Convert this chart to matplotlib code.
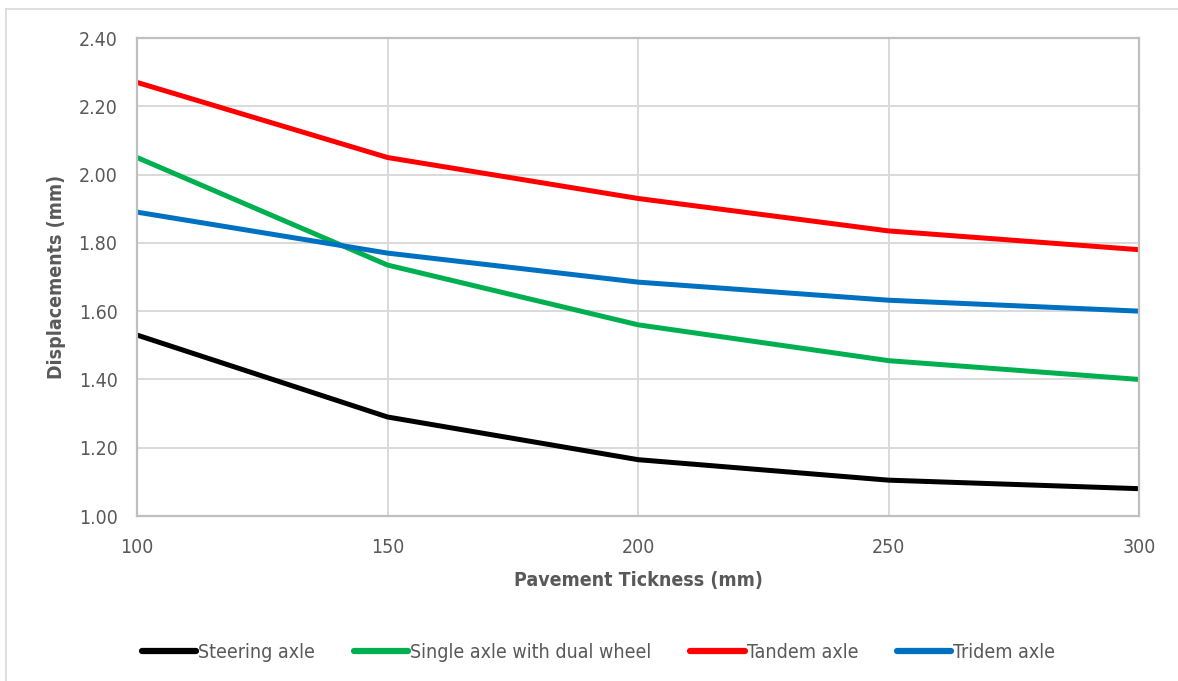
import matplotlib

matplotlib.use("Agg")
import matplotlib.pyplot as plt
from matplotlib.lines import Line2D

# Data
THICKNESS = [100, 150, 200, 250, 300]
STEERING = [1.53, 1.29, 1.165, 1.105, 1.08]
SINGLE_DUAL = [2.05, 1.735, 1.56, 1.455, 1.40]
TANDEM = [2.27, 2.05, 1.93, 1.835, 1.78]
TRIDEM = [1.89, 1.77, 1.685, 1.632, 1.60]

SERIES = [
    ("Steering axle", STEERING, "#000000"),
    ("Single axle with dual wheel", SINGLE_DUAL, "#00B050"),
    ("Tandem axle", TANDEM, "#FF0000"),
    ("Tridem axle", TRIDEM, "#0070C0"),
]

TEXT_COL = "#595959"
FS = 14
plt.rcParams.update({
    "font.family": ["DejaVu Sans"],
    "font.stretch": "condensed",  # closest match to the narrow font of the original
    "font.size": FS,
})

fig = plt.figure(figsize=(11.78, 6.81), dpi=100)
ax = fig.add_axes([137 / 1178, 1 - 516 / 681, (1139 - 137) / 1178, (516 - 38) / 681])

for label, vals, col in SERIES:
    ax.plot(THICKNESS, vals, color=col, lw=3.6, label=label, solid_capstyle="butt")

ax.set_xlim(100, 300)
ax.set_ylim(1.0, 2.4)
ax.set_xticks(THICKNESS)
ax.set_yticks([1.0, 1.2, 1.4, 1.6, 1.8, 2.0, 2.2, 2.4])
ax.set_yticklabels([f"{v:.2f}" for v in ax.get_yticks()])
ax.grid(True, color="#D9D9D9", lw=1.4)
ax.set_axisbelow(True)
for s in ax.spines.values():
    s.set_color("#BFBFBF")
    s.set_linewidth(1.6)
ax.tick_params(length=0, colors=TEXT_COL, labelsize=FS)
ax.tick_params(axis="y", pad=14)
ax.tick_params(axis="x", pad=16)

ax.set_xlabel("Pavement Tickness (mm)", fontweight="bold", color=TEXT_COL,
              fontsize=FS, labelpad=10)
ax.set_ylabel("Displacements (mm)", fontweight="bold", color=TEXT_COL,
              fontsize=FS, labelpad=9)

handles = [Line2D([], [], color=c, lw=4.5, solid_capstyle="round") for _, _, c in SERIES]
labels = [l for l, _, _ in SERIES]
leg = fig.legend(handles, labels, loc="center", bbox_to_anchor=(0.508, 1 - 652 / 681),
                 ncol=4, frameon=False, handlelength=2.8, handletextpad=0.1,
                 columnspacing=2.0, fontsize=FS)
for t in leg.get_texts():
    t.set_color(TEXT_COL)

# outer chart border (top & left visible in the reference)
fig.add_artist(Line2D([6 / 1178, 6 / 1178], [0, 1 - 9 / 681], transform=fig.transFigure,
                      color="#D9D9D9", lw=1.2))
fig.add_artist(Line2D([6 / 1178, 1], [1 - 9 / 681, 1 - 9 / 681], transform=fig.transFigure,
                      color="#D9D9D9", lw=1.2))

fig.savefig("out.png", dpi=100)
